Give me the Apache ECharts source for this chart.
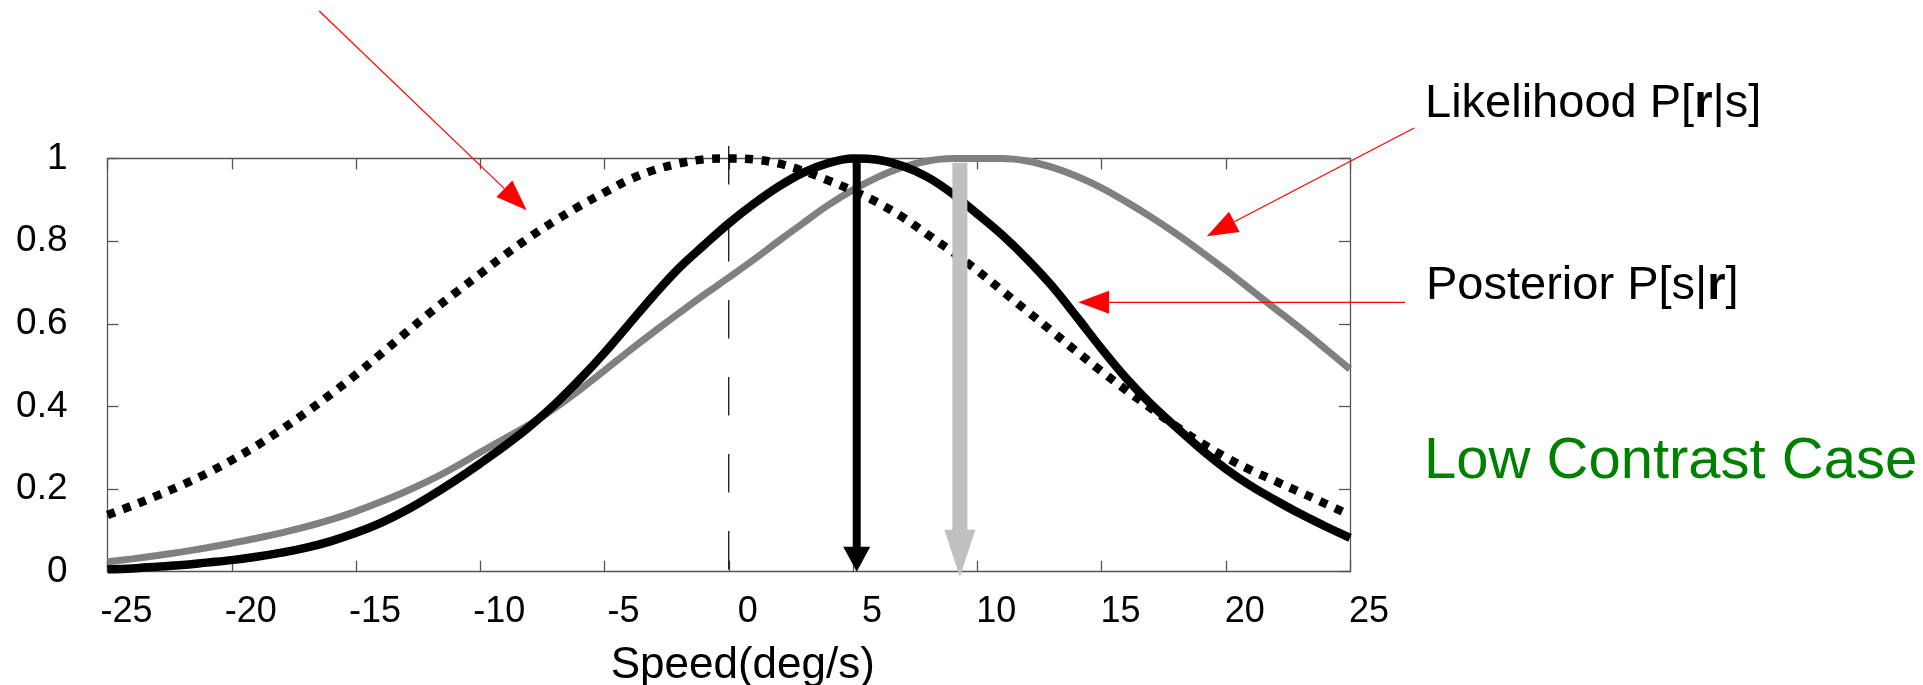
<!DOCTYPE html>
<html><head><meta charset="utf-8">
<script src="https://cdn.jsdelivr.net/npm/echarts@6/dist/echarts.min.js"></script>
<style>html,body{margin:0;padding:0;background:#fff}#c{width:1923px;height:685px}</style>
</head><body><div id="c"></div>
<script>
// ---- data ----
const speed = [-25,-24,-23,-22,-21,-20,-19,-18,-17,-16,-15,-14,-13,-12,-11,-10,-9,-8,-7,-6,-5,-4,-3,-2,-1,0,1,2,3,4,5,6,7,8,9,10,11,12,13,14,15,16,17,18,19,20,21,22,23,24,25];
const prior = [0.137,0.160,0.184,0.210,0.238,0.270,0.305,0.344,0.386,0.430,0.477,0.527,0.578,0.628,0.675,0.721,0.767,0.810,0.849,0.885,0.918,0.949,0.972,0.988,0.998,1.0,0.998,0.988,0.970,0.947,0.922,0.893,0.858,0.816,0.774,0.729,0.680,0.631,0.582,0.533,0.485,0.439,0.395,0.352,0.312,0.277,0.246,0.219,0.192,0.165,0.137];
const posterior = [0.006,0.008,0.012,0.016,0.022,0.028,0.036,0.046,0.058,0.074,0.094,0.118,0.148,0.183,0.221,0.262,0.305,0.352,0.405,0.465,0.530,0.600,0.670,0.735,0.790,0.843,0.890,0.932,0.966,0.989,1.0,0.997,0.982,0.955,0.915,0.866,0.815,0.757,0.692,0.617,0.540,0.468,0.405,0.350,0.297,0.249,0.208,0.173,0.140,0.110,0.082];
const likelihood = [0.024,0.031,0.039,0.048,0.058,0.069,0.081,0.094,0.109,0.126,0.146,0.169,0.194,0.222,0.254,0.289,0.323,0.357,0.396,0.440,0.487,0.535,0.581,0.626,0.670,0.712,0.755,0.800,0.844,0.887,0.924,0.955,0.979,0.994,1.0,1.0,1.0,0.994,0.979,0.957,0.929,0.895,0.858,0.818,0.775,0.730,0.683,0.636,0.589,0.540,0.490];
const zeroLine = [[0,1.03],[0,0]];
// estimate arrows: x position, top value, tip value
const estimateX = [5.15, 9.3];
const estimateTop = [1.0, 0.99];
const estimateTip = [0, -0.012];
// red pointer arrows (from -> to), in data units
const pointerFrom = [[-16.48,1.357],[27.58,1.074],[27.22,0.652]];
const pointerTo = [[-8.13,0.875],[19.24,0.812],[14.06,0.652]];
const annotationTexts = ['Likelihood P[{b|r}|s]','Posterior P[s|{b|r}]','Low Contrast Case'];

// ---- chart ----
const FONT = '"Liberation Sans", Arial, Helvetica, sans-serif';
const pair = (xs, ys) => xs.map((x,i)=>[x, ys[i]]);
const arrowStyles = [
  {color:'#000000', shaft:8, headW:27, headL:25},
  {color:'#c0c0c0', shaft:15, headW:31, headL:47}
];
const axisCol = '#555555';
const boxAxis = (pos, isX) => ({
  type:'value', position: pos, min: isX?-25:0, max: isX?25:1, interval: isX?5:0.2,
  axisLine:{show:true, onZero:false, lineStyle:{color:axisCol, width:1.3}},
  axisTick:{show:true, inside:true, length:11, lineStyle:{color:axisCol, width:1.3}},
  axisLabel:{show:false}, splitLine:{show:false}
});

const chart = echarts.init(document.getElementById('c'), null, {renderer:'canvas'});
const xMain = boxAxis('bottom', true);
xMain.axisLabel = {show:true, fontSize:36, color:'#000', fontFamily:FONT, margin:40, verticalAlign:'middle', padding:[0,0,0,38], showMinLabel:true, showMaxLabel:true};
xMain.name = 'Speed(deg/s)';
xMain.nameLocation = 'middle';
xMain.nameGap = 94;
xMain.nameTextStyle = {fontSize:44, color:'#000', fontFamily:FONT, verticalAlign:'middle', padding:[0,0,0,28]};
const yMain = boxAxis('left', false);
yMain.axisLabel = {show:true, fontSize:37, color:'#000', fontFamily:FONT, margin:40, align:'right', padding:[5,0,0,0], showMinLabel:true, showMaxLabel:true};

chart.setOption({
  animation:false,
  backgroundColor:'#ffffff',
  grid:{left:107.5, right:573, top:158.5, bottom:113.3, containLabel:false, outerBoundsMode:'none'},
  xAxis:[xMain, boxAxis('top', true)],
  yAxis:[yMain, boxAxis('right', false)],
  graphic:[
    {type:'text', left:1425, top:104 - 23.5, style:{text:annotationTexts[0], font:'47px '+FONT, fill:'#000', rich:{b:{fontWeight:'bold', fontSize:47, fontFamily:FONT}}}},
    {type:'text', left:1426, top:286 - 23.5, style:{text:annotationTexts[1], font:'47px '+FONT, fill:'#000', rich:{b:{fontWeight:'bold', fontSize:47, fontFamily:FONT}}}},
    {type:'text', left:1424, top:461.7 - 29, style:{text:annotationTexts[2], font:'58px '+FONT, fill:'#008000'}}
  ],
  series:[
    {type:'line', name:'zero', data:zeroLine, showSymbol:false, symbol:'none', clip:false, z:1,
     lineStyle:{color:'#000', width:1.2, type:[38.5,38.5]}},
    {type:'line', name:'Likelihood', data:pair(speed, likelihood), showSymbol:false, symbol:'none', smooth:0.35, clip:false, z:2,
     lineStyle:{color:'#808080', width:7}},
    {type:'line', name:'Prior', data:pair(speed, prior), showSymbol:false, symbol:'none', smooth:0.35, clip:false, z:3,
     lineStyle:{color:'#000', width:8.5, type:[8,8.5], cap:'butt'}},
    {type:'line', name:'Posterior', data:pair(speed, posterior), showSymbol:false, symbol:'none', smooth:0.35, clip:false, z:4,
     lineStyle:{color:'#000', width:8.5}},
    {type:'custom', name:'estimates', z:5, clip:false,
     data: estimateX.map((x,i)=>[x, estimateTop[i], estimateTip[i]]),
     renderItem:(params, api)=>{
       const st = arrowStyles[params.dataIndex];
       const top = api.coord([api.value(0), api.value(1)]);
       const tip = api.coord([api.value(0), api.value(2)]);
       return {type:'group', children:[
         {type:'rect', shape:{x:top[0]-st.shaft/2, y:top[1], width:st.shaft, height:tip[1]-top[1]-st.headL+1}, style:{fill:st.color}},
         {type:'polygon', shape:{points:[[tip[0]-st.headW/2, tip[1]-st.headL],[tip[0]+st.headW/2, tip[1]-st.headL],[tip[0], tip[1]]]}, style:{fill:st.color}}
       ]};
     }},
    {type:'custom', name:'pointers', z:6, clip:false,
     data: pointerFrom.map((f,i)=>[f[0], f[1], pointerTo[i][0], pointerTo[i][1]]),
     renderItem:(params, api)=>{
       const p0 = api.coord([api.value(0), api.value(1)]);
       const p1 = api.coord([api.value(2), api.value(3)]);
       const dx = p1[0]-p0[0], dy = p1[1]-p0[1];
       const L = Math.hypot(dx, dy), ux = dx/L, uy = dy/L;
       const hl = 31, hw = 23;
       const bx = p1[0]-ux*hl, by = p1[1]-uy*hl;
       return {type:'group', children:[
         {type:'line', shape:{x1:p0[0], y1:p0[1], x2:bx, y2:by}, style:{stroke:'#ff0000', lineWidth:1.2}},
         {type:'polygon', shape:{points:[[p1[0],p1[1]],[bx-uy*hw/2, by+ux*hw/2],[bx+uy*hw/2, by-ux*hw/2]]}, style:{fill:'#ff0000'}}
       ]};
     }}
  ]
});
</script></body></html>
